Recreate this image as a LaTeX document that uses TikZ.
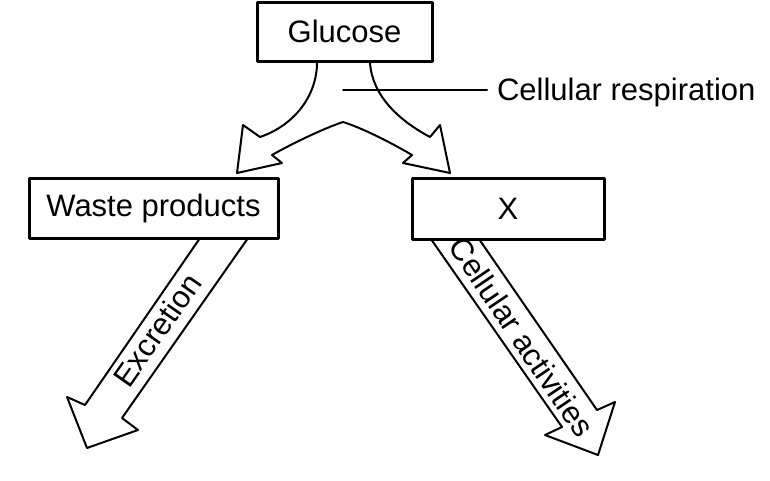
\documentclass[tikz,border=0pt]{standalone}
\usepackage{fontspec}
\setmainfont{Liberation Sans}
\usetikzlibrary{calc}

\begin{document}
\begin{tikzpicture}[line width=2pt, line cap=round, line join=round, x=1pt, y=-1pt,
  box/.style={draw, line width=3pt, inner sep=0pt},
  lbl/.style={font=\fontsize{31}{36}\selectfont, inner sep=0pt}]
  \useasboundingbox (0,0) rectangle (770,480);
  \node[box, lbl, minimum width=175pt, minimum height=59pt] (glucose) at (344.5,31.5) {Glucose};
  \node[box, lbl, minimum width=249pt, minimum height=60pt] (waste) at (153.5,208) {Waste products};
  \node[box, lbl, minimum width=192pt, minimum height=61pt] (prodx) at (508,208.5) {X};
  \node[lbl, anchor=base west] (resp) at (496,100) {Cellular respiration};
  \coordinate (respend) at ($(resp.base west)+(-9,-10)$);
  \draw (343,90) -- (respend);
  \draw ($(glucose.south)+(-27.5,0)$) .. controls (317,95) and (295,125) .. (260,137)
    -- (243,125) -- (237,173) -- (282,163) -- (272,155)
    .. controls (295,142) and (325,128) .. (343,122)
    .. controls (362,128) and (390,142) .. (412,155)
    -- (403,163) -- (450,173) -- (440,125) -- (430,137)
    .. controls (398,120) and (372,95) .. ($(glucose.south)+(25.5,0)$);
  \draw ($(waste.south)+(45.5,0)$) -- (85,405) -- (67,397) -- (87,448) -- (138,430) -- (122,418) -- ($(waste.south)+(93.5,0)$);
  \node[lbl, rotate=55] (excr) at (157,330) {Excretion};
  \draw ($(prodx.south)+(-76,0)$) -- (562,427) -- (545,435) -- (598,455) -- (615,402) -- (597,410) -- ($(prodx.south)+(-28,0)$);
  \node[lbl, rotate=-56] (activ) at (522,337) {Cellular activities};
\end{tikzpicture}
\end{document}
